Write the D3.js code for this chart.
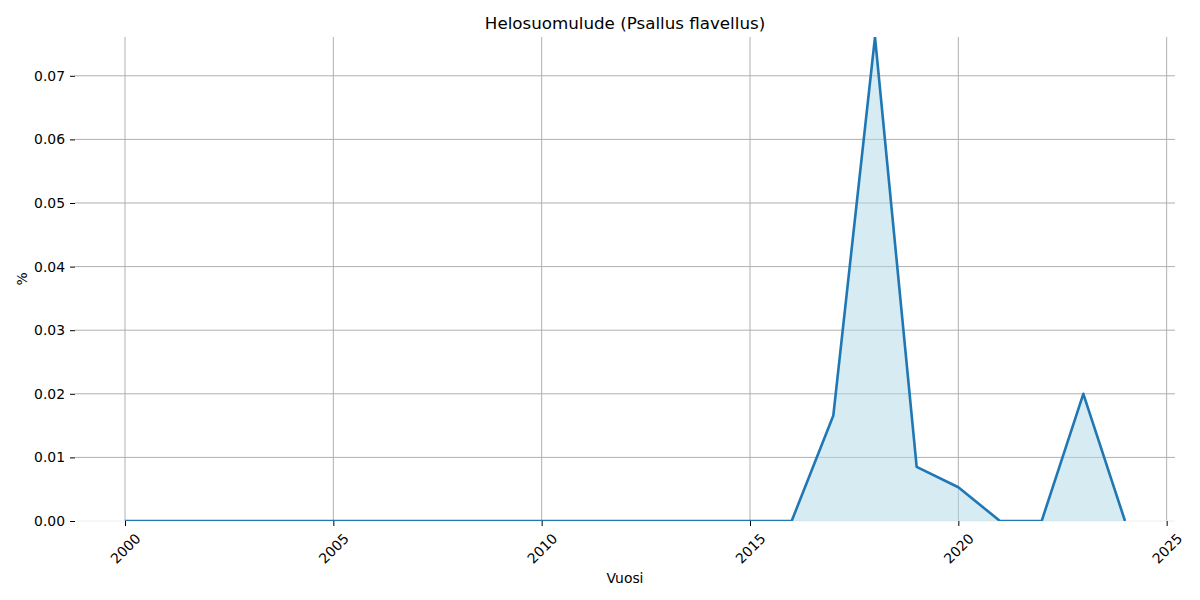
<!DOCTYPE html>
<html>
<head>
<meta charset="utf-8">
<script src="https://cdn.jsdelivr.net/npm/d3@7"></script>
<style>
  body { margin: 0; background: #fff; }
  text { font-family: "DejaVu Sans", sans-serif; }
</style>
</head>
<body>
<div id="chart"></div>
<script>
const years = [2000, 2001, 2002, 2003, 2004, 2005, 2006, 2007, 2008, 2009, 2010, 2011,
  2012, 2013, 2014, 2015, 2016, 2017, 2018, 2019, 2020, 2021, 2022, 2023, 2024];
const percent = [0, 0, 0, 0, 0, 0, 0, 0, 0, 0, 0, 0,
  0, 0, 0, 0, 0, 0.0166, 0.0761, 0.0085, 0.0053, 0, 0, 0.0200, 0];
const xTicks = [2000, 2005, 2010, 2015, 2020, 2025];
const yTicks = [0, 0.01, 0.02, 0.03, 0.04, 0.05, 0.06, 0.07];
const title = "Helosuomulude (Psallus flavellus)";

const width = 1200, height = 600;
const mLeft = 75, mRight = 1175, mTop = 37, mBottom = 521;

const data = years.map((yr, i) => ({ year: yr, value: percent[i] }));

const x = d3.scaleLinear()
  .domain([1998.8, 2025.2])
  .range([mLeft, mRight]);
const y = d3.scaleLinear()
  .domain([0, d3.max(percent)])
  .range([mBottom, mTop]);

const svg = d3.select("#chart").append("svg")
  .attr("width", width)
  .attr("height", height);

svg.append("defs").append("clipPath").attr("id", "clip")
  .append("rect")
  .attr("x", mLeft).attr("y", mTop)
  .attr("width", mRight - mLeft).attr("height", mBottom - mTop);

// grid
const grid = svg.append("g");
grid.selectAll(".gx").data(xTicks).enter().append("line")
  .attr("x1", d => x(d)).attr("x2", d => x(d))
  .attr("y1", mTop).attr("y2", mBottom)
  .attr("stroke", "#b0b0b0").attr("stroke-width", 1);
grid.selectAll(".gy").data(yTicks).enter().append("line")
  .attr("x1", mLeft).attr("x2", mRight)
  .attr("y1", d => y(d)).attr("y2", d => y(d))
  .attr("stroke", d => d === 0 ? "#eeeeee" : "#b0b0b0")
  .attr("stroke-width", 1);

const plot = svg.append("g").attr("clip-path", "url(#clip)");

plot.append("path")
  .datum(data)
  .attr("fill", "#add8e6")
  .attr("fill-opacity", 0.5)
  .attr("d", d3.area()
    .x(d => x(d.year))
    .y0(y(0))
    .y1(d => y(d.value)));

plot.append("path")
  .datum(data)
  .attr("fill", "none")
  .attr("stroke", "#1f77b4")
  .attr("stroke-width", 2.6)
  .attr("stroke-linejoin", "round")
  .attr("d", d3.line()
    .x(d => x(d.year))
    .y(d => y(d.value)));

// x axis
const xAxis = svg.append("g")
  .attr("transform", `translate(0,${mBottom})`)
  .call(d3.axisBottom(x).tickValues(xTicks).tickSize(5).tickFormat(d3.format("d")));
xAxis.select(".domain").remove();
xAxis.selectAll(".tick line").attr("stroke", "#000").attr("stroke-width", 1);
xAxis.selectAll(".tick text")
  .attr("y", 0).attr("dy", null)
  .attr("transform", "translate(0,27.5) rotate(-45)")
  .attr("text-anchor", "middle")
  .attr("dominant-baseline", "central")
  .attr("font-size", 13.9)
  .attr("fill", "#000")
  .style("font-family", "DejaVu Sans, sans-serif");

// y axis
const yAxis = svg.append("g")
  .attr("transform", `translate(${mLeft},0)`)
  .call(d3.axisLeft(y).tickValues(yTicks).tickSize(5).tickPadding(5).tickFormat(d3.format(".2f")));
yAxis.select(".domain").remove();
yAxis.selectAll(".tick line").attr("stroke", "#000").attr("stroke-width", 1);
yAxis.selectAll(".tick text")
  .attr("font-size", 13.9)
  .attr("fill", "#000")
  .style("font-family", "DejaVu Sans, sans-serif");

svg.append("text")
  .attr("x", (mLeft + mRight) / 2).attr("y", 23)
  .attr("text-anchor", "middle")
  .attr("dominant-baseline", "central")
  .attr("font-size", 16.7)
  .text(title);

svg.append("text")
  .attr("x", (mLeft + mRight) / 2).attr("y", 578)
  .attr("text-anchor", "middle")
  .attr("dominant-baseline", "central")
  .attr("font-size", 13.9)
  .text("Vuosi");

svg.append("text")
  .attr("transform", `translate(22,${(mTop + mBottom) / 2}) rotate(-90)`)
  .attr("text-anchor", "middle")
  .attr("dominant-baseline", "central")
  .attr("font-size", 13.9)
  .text("%");
</script>
</body>
</html>
